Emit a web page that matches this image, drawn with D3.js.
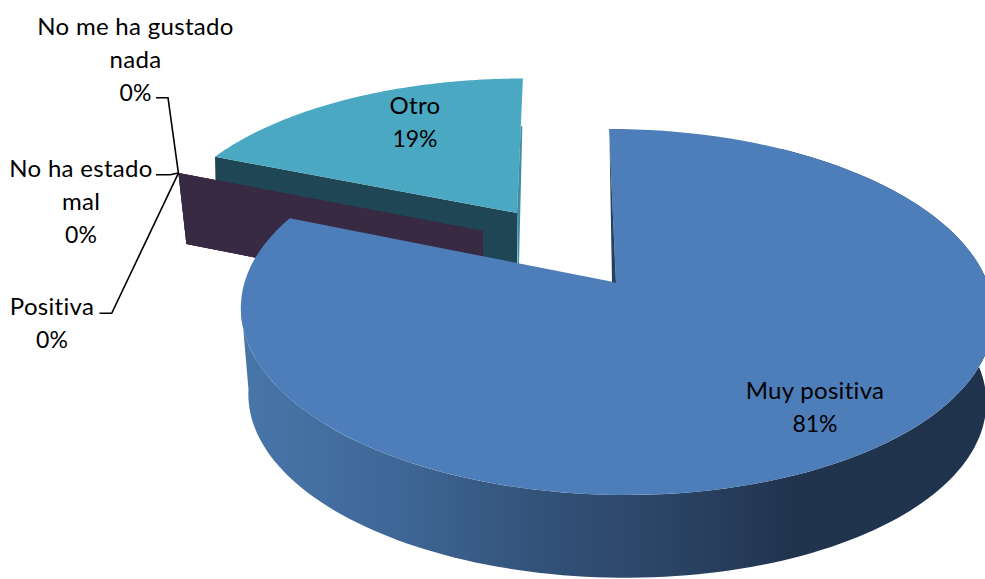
<!DOCTYPE html>
<html>
<head>
<meta charset="utf-8">
<script src="https://cdn.jsdelivr.net/npm/d3@7"></script>
<style>
  html, body { margin: 0; padding: 0; background: #fff; overflow: hidden; }
  text { font-family: Lato, "Open Sans", sans-serif; fill: #000; text-anchor: middle; font-variant-ligatures: none; }
  .name { font-size: 24px; letter-spacing: 0.3px; }
  .pct { font-size: 23px; }
</style>
</head>
<body>
<svg id="chart"></svg>
<script>
const categories = ["Muy positiva", "Positiva", "No ha estado mal", "No me ha gustado nada", "Otro"];
const values = [13, 0, 0, 0, 3];
const labelLines = [["Muy positiva"], ["Positiva"], ["No ha estado", "mal"], ["No me ha gustado", "nada"], ["Otro"]];

const width = 985;
const height = 579;
const lineGap = 33;

// where each slice sits once exploded: apex, radii, perspective and lean
const views = [
  { ax: 616, ay: 282.5, rx: 371.5, ry: 178.3, k: 0.161, lean: 0.0456 },
  { ax: 483, ay: 231, rx: 350, ry: 160.7, k: 0.161, lean: 0 },
  { ax: 483, ay: 231, rx: 350, ry: 160.7, k: 0.161, lean: 0 },
  { ax: 483, ay: 231, rx: 350, ry: 160.7, k: 0.161, lean: 0 },
  { ax: 517, ay: 213, rx: 349.7, ry: 156, k: 0.16, lean: -0.044 }
];
const topColors = ["#4e7eb9", "#382a43", "#382a43", "#382a43", "#4aa8c2"];
const wallColors = ["url(#blueWall)", "#382a43", "#382a43", "#382a43", "#1f4654"];
const labelAnchors = [[815, 399], [52, 315], [81, 177], [135.5, 35], [415, 113.5]];

function project(v, angle, r) {
  const w = 1 + v.k * r * Math.cos(angle);
  const y = -v.ry * r * Math.cos(angle) / w;
  const x = v.rx * r * Math.sin(angle) / w + v.lean * y;
  return [v.ax + x, v.ay + y];
}

const svg = d3.select("#chart").attr("width", width).attr("height", height);
const line = d3.line();
const total = d3.sum(values);
const slices = d3.pie().value(d => d).sort(null)(values);

const grad = svg.append("defs").append("linearGradient")
  .attr("id", "blueWall")
  .attr("gradientUnits", "userSpaceOnUse")
  .attr("x1", 241).attr("x2", 985).attr("y1", 0).attr("y2", 0);
[[0, "#4876a9"], [0.2, "#3f6898"], [0.39, "#33537a"], [0.62, "#29405f"], [0.74, "#20344e"], [1, "#20334c"]]
  .forEach(s => grad.append("stop").attr("offset", s[0]).attr("stop-color", s[1]));

function rimPoints(v, a0, a1) {
  return d3.range(0, 121).map(i => project(v, a0 + (a1 - a0) * i / 120, 1));
}

function drawFace(i) {
  const v = views[i], s = slices[i];
  const pts = [project(v, 0, 0)].concat(rimPoints(v, s.startAngle, s.endAngle));
  svg.append("path").attr("d", line(pts) + "Z").attr("fill", topColors[i]);
}

// flat wall along the cut edge of an exploded slice
function drawCutWall(i, depth, footShift) {
  const v = views[i], a = slices[i].startAngle;
  const rim = project(v, a, 1), apex = project(v, a, 0);
  svg.append("path")
    .attr("d", line([rim, apex, [apex[0], apex[1] + depth], [rim[0] + footShift, rim[1] + depth]]) + "Z")
    .attr("fill", wallColors[i]);
}

// Otro
drawCutWall(4, 52, 1);
drawFace(4);
const o = views[4];
const oTop = project(o, slices[4].endAngle, 0.61), oApex = project(o, 0, 0);
svg.append("path")
  .attr("d", line([oTop, oApex, [oApex[0] + 0.5, oApex[1] + 51], [oApex[0] + 2, oApex[1] + 51], [oTop[0] + 1.5, oTop[1]]]) + "Z")
  .attr("fill", "#3d8da5");

// the three empty slices only show their wall
[1, 2, 3].forEach(i => drawCutWall(i, 71, 8));

// Muy positiva: outer wall, then face, then the thin inner wall
const b = views[0];
const bWallFrom = 1.45, bWallTo = 4.6;
const lowRim = d3.range(0, 121).map(i => {
  const p = project(b, bWallFrom + (bWallTo - bWallFrom) * i / 120, 1);
  return [b.ax + (p[0] - b.ax) * 0.98, b.ay + (p[1] - b.ay) * 0.98 + 87];
});
svg.append("path")
  .attr("d", line(rimPoints(b, bWallFrom - 0.9, bWallTo).concat(lowRim.reverse()).concat([project(b, bWallFrom - 0.9, 1)])) + "Z")
  .attr("fill", "url(#blueWall)");
drawFace(0);
const bTop = project(b, 0, 0.91), bApex = project(b, 0, 0);
svg.append("path")
  .attr("d", line([bTop, [bApex[0] - 4, bApex[1] - 0.6], [bApex[0], bApex[1] + 0.5]]) + "Z")
  .attr("fill", "#22405f");

// leader lines of the empty slices, all ending at the same rim point
const tip = project(views[2], slices[2].startAngle, 1);
const leaders = [
  [[99.5, 313.3], [111.7, 313.3], tip],
  [[156, 174.7], [170, 174.7], tip],
  [[156, 97.7], [168, 97.7], tip]
];
svg.selectAll("path.leader").data(leaders).enter().append("path")
  .attr("class", "leader")
  .attr("d", d => line(d))
  .attr("fill", "none")
  .attr("stroke", "#000")
  .attr("stroke-width", 1.6);

// labels
categories.forEach((c, i) => {
  const t = svg.append("text").attr("data-category", c);
  const rows = labelLines[i];
  rows.forEach((l, j) => {
    t.append("tspan").attr("class", "name")
      .attr("x", labelAnchors[i][0])
      .attr("y", labelAnchors[i][1] + j * lineGap)
      .text(l);
  });
  t.append("tspan").attr("class", "pct")
    .attr("x", labelAnchors[i][0])
    .attr("y", labelAnchors[i][1] + rows.length * lineGap)
    .text(Math.round(values[i] / total * 100) + "%");
});
</script>
</body>
</html>
